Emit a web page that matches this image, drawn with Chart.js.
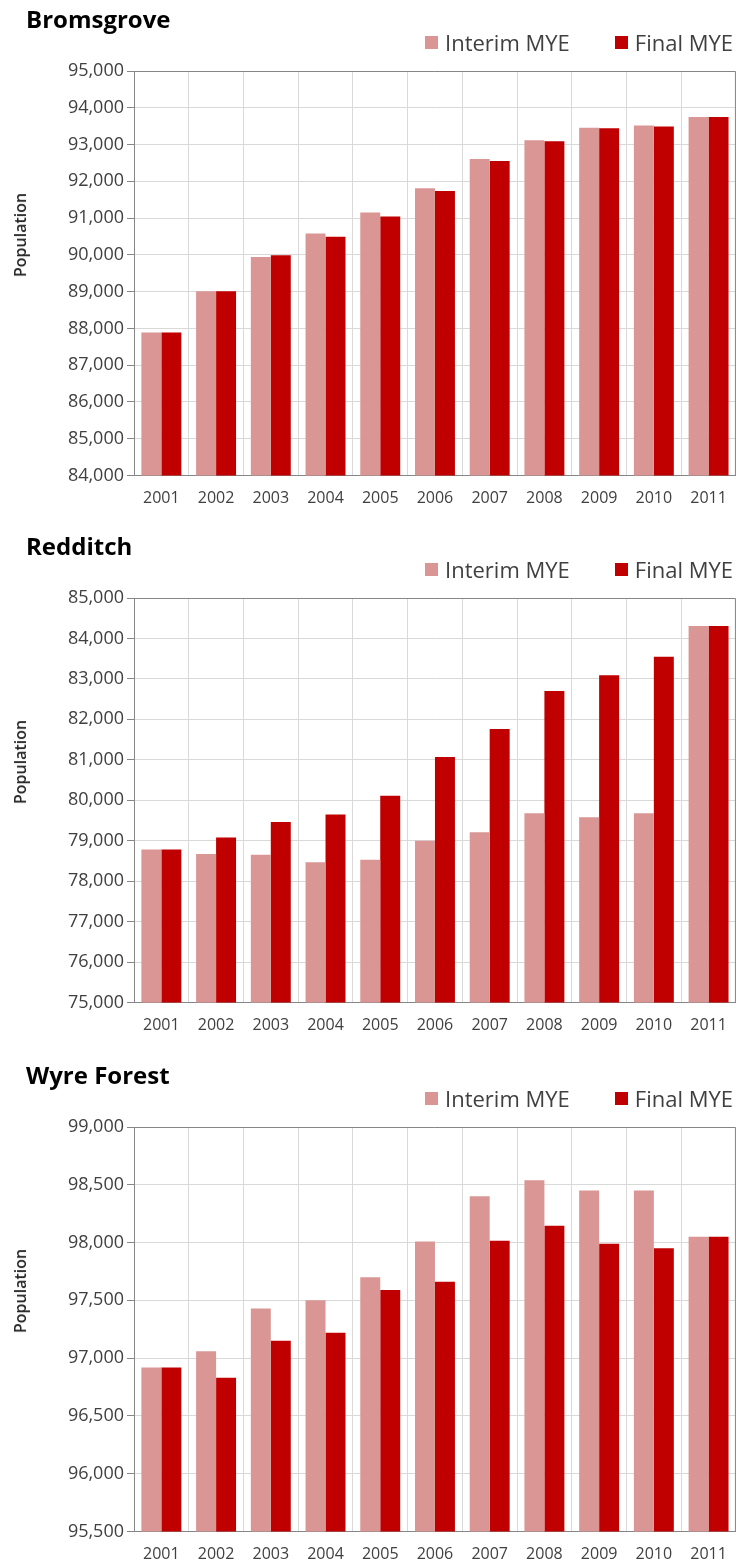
<!DOCTYPE html>
<html>
<head>
<meta charset="utf-8">
<script src="https://cdn.jsdelivr.net/npm/chart.js@4.4.0/dist/chart.umd.min.js"></script>
<style>
    body { margin: 0; width: 740px; height: 1566px; overflow: hidden; background: #fff; font-family: 'Open Sans', sans-serif; }
    .block { position: absolute; left: 0; width: 740px; height: 522px; }
    .block .wrap { position: absolute; left: 0; top: 0; width: 740px; height: 522px; }
    .title { position: absolute; left: 26px; top: 4px; font-weight: bold; font-size: 24px; line-height: 30px; color: #000; }
    .legend { position: absolute; right: 7px; top: 28px; font-size: 22px; line-height: 28px; color: #404040; display: flex; }
    .legend .item { display: flex; align-items: center; margin-left: 45px; }
    .legend i { width: 13px; height: 13px; margin-right: 7px; display: inline-block; }
    .ytitle { position: absolute; left: 20px; top: 235px; transform: translate(-50%, -50%) rotate(-90deg); font-size: 16px; font-weight: 600; color: #262626; white-space: nowrap; }
</style>
</head>
<body>

<div class="block" id="b1" style="top:0px">
    <div class="wrap"><canvas id="bromsgroveChart"></canvas></div>
    <div class="title">Bromsgrove</div>
    <div class="legend"></div>
    <div class="ytitle">Population</div>
</div>
<div class="block" id="b2" style="top:527px">
    <div class="wrap"><canvas id="redditchChart"></canvas></div>
    <div class="title">Redditch</div>
    <div class="legend"></div>
    <div class="ytitle">Population</div>
</div>
<div class="block" id="b3" style="top:1056px">
    <div class="wrap"><canvas id="wyreChart"></canvas></div>
    <div class="title">Wyre Forest</div>
    <div class="legend"></div>
    <div class="ytitle">Population</div>
</div>

<script>
// Mid-year population estimates
const years = ['2001', '2002', '2003', '2004', '2005', '2006', '2007', '2008', '2009', '2010', '2011'];
const seriesNames = ['Interim MYE', 'Final MYE'];

const bromsgroveInterim = [87890, 89010, 89940, 90580, 91150, 91810, 92610, 93120, 93460, 93520, 93750];
const bromsgroveFinal   = [87890, 89010, 89990, 90490, 91040, 91740, 92550, 93090, 93440, 93490, 93750];

const redditchInterim = [78780, 78670, 78650, 78470, 78530, 79000, 79210, 79680, 79580, 79680, 84310];
const redditchFinal   = [78780, 79080, 79460, 79650, 80110, 81070, 81760, 82700, 83090, 83550, 84310];

const wyreInterim = [96920, 97060, 97430, 97500, 97700, 98010, 98400, 98540, 98450, 98450, 98050];
const wyreFinal   = [96920, 96830, 97150, 97220, 97590, 97660, 98015, 98145, 97990, 97950, 98050];

// y axis: [min, max, step]
const bromsgroveAxis = [84000, 95000, 1000];
const redditchAxis   = [75000, 85000, 1000];
const wyreAxis       = [95500, 99000, 500];

const colors = {
    interim: '#d99694',
    final: '#c00000',
    grid: '#d9d9d9',
    axis: '#868686',
    text: '#404040'
};

// draws the top and right edges of the plot box
const plotFrame = {
    id: 'plotFrame',
    afterDraw(chart) {
        const { ctx, chartArea } = chart;
        ctx.save();
        ctx.strokeStyle = colors.axis;
        ctx.lineWidth = 1;
        ctx.beginPath();
        ctx.moveTo(chartArea.left, chartArea.top + 0.5);
        ctx.lineTo(chartArea.right - 0.5, chartArea.top + 0.5);
        ctx.lineTo(chartArea.right - 0.5, chartArea.bottom);
        ctx.stroke();
        ctx.restore();
    }
};

function buildLegend(block, chart) {
    const box = block.querySelector('.legend');
    chart.data.datasets.forEach(ds => {
        const item = document.createElement('span');
        item.className = 'item';
        const swatch = document.createElement('i');
        swatch.style.background = ds.backgroundColor;
        item.appendChild(swatch);
        item.appendChild(document.createTextNode(ds.label));
        box.appendChild(item);
    });
}

function makeChart(canvasId, blockId, interim, final, axis) {
    const ctx = document.getElementById(canvasId);
    const chart = new Chart(ctx, {
        type: 'bar',
        data: {
            labels: years,
            datasets: [
                { label: seriesNames[0], data: interim, backgroundColor: colors.interim },
                { label: seriesNames[1], data: final, backgroundColor: colors.final }
            ]
        },
        options: {
            responsive: true,
            maintainAspectRatio: false,
            animation: false,
            categoryPercentage: 0.73,
            barPercentage: 1.0,
            layout: { padding: { top: 71, right: 3, left: 0, bottom: 0 } },
            plugins: {
                legend: { display: false },
                title: { display: false },
                tooltip: { enabled: false }
            },
            scales: {
                x: {
                    grid: { color: colors.grid, offset: true, drawTicks: false },
                    border: { color: colors.axis },
                    ticks: { color: colors.text, font: { family: 'Open Sans', size: 16 }, padding: 13 },
                    afterFit(scale) { scale.height = 46.5; }
                },
                y: {
                    min: axis[0],
                    max: axis[1],
                    grid: { color: colors.grid, tickLength: 7, tickColor: colors.axis },
                    border: { color: colors.axis },
                    ticks: {
                        stepSize: axis[2],
                        color: colors.text,
                        font: { family: 'Open Sans', size: 18 },
                        padding: 3,
                        callback: v => v.toLocaleString('en-US')
                    },
                    afterFit(scale) { scale.width = 134; }
                }
            }
        },
        plugins: [plotFrame]
    });
    buildLegend(document.getElementById(blockId), chart);
    return chart;
}

makeChart('bromsgroveChart', 'b1', bromsgroveInterim, bromsgroveFinal, bromsgroveAxis);
makeChart('redditchChart', 'b2', redditchInterim, redditchFinal, redditchAxis);
makeChart('wyreChart', 'b3', wyreInterim, wyreFinal, wyreAxis);
</script>
</body>
</html>
